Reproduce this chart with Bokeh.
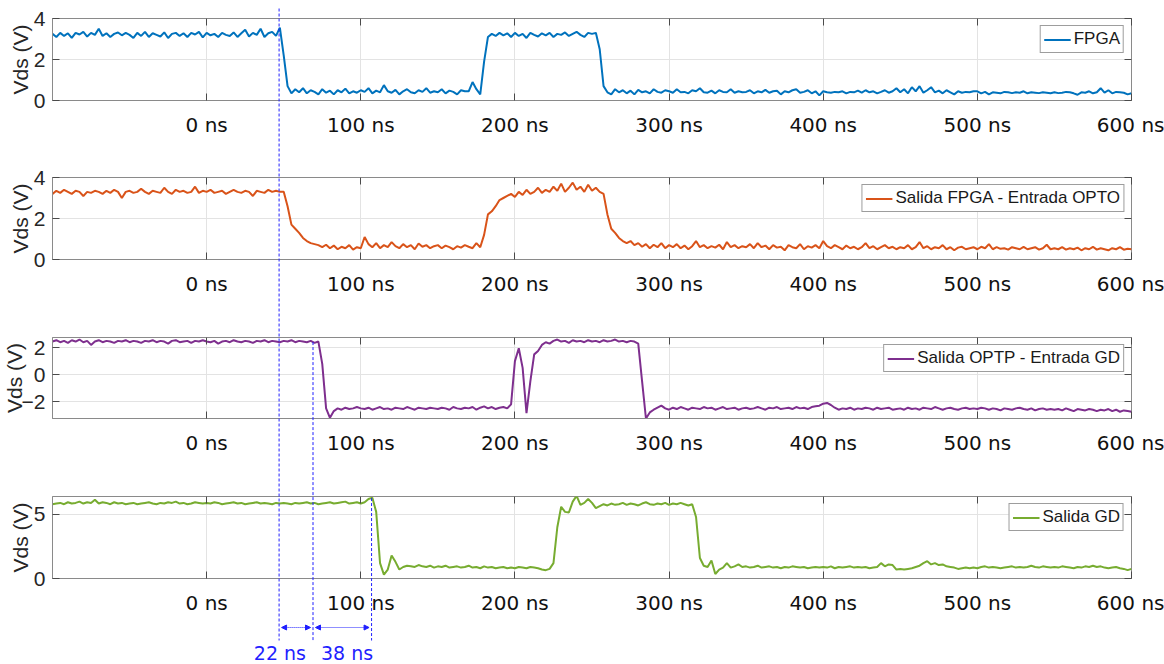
import numpy as np
from bokeh.plotting import figure
from bokeh.models import (Range1d, LinearAxis, FixedTicker, PrintfTickFormatter,
                          Arrow, NormalHead, Label, Legend, LegendItem, GridBox)
from bokeh.embed import file_html
from bokeh.resources import INLINE

# ---- sampled waveforms: Vds in volts, one sample every 2.5 ns from -100 ns ----
T0_NS = -100.0
DT_NS = 2.5

fpga_vds = [
    3.25, 3.1, 3.3, 3.15, 3.28, 3.05, 3.3, 3.22, 3.35, 3.12, 3.3, 3.2, 3.5, 3.15, 3.28, 3.1, 3.25, 3.32, 3.18, 3.3,
    3.2, 3.05, 3.3, 3.15, 3.35, 3.1, 3.28, 3.2, 3.12, 3.32, 3.05, 3.25, 3.3, 3.15, 3.28, 3.1, 3.3, 3.22, 3.35, 3.08,
    3.3, 3.18, 3.25, 3.1, 3.3, 3.2, 3.15, 3.32, 3.1, 3.28, 3.45, 3.12, 3.3, 3.2, 3.5, 3.1, 3.28, 3.35, 3.15, 3.55,
    2.2, 0.7, 0.35, 0.55, 0.4, 0.6, 0.35, 0.5, 0.42, 0.3, 0.55, 0.38, 0.48, 0.3, 0.5, 0.4, 0.58, 0.35, 0.45, 0.38,
    0.5, 0.42, 0.6, 0.35, 0.48, 0.4, 0.75, 0.45, 0.38, 0.52, 0.3, 0.45, 0.55, 0.4, 0.35, 0.5, 0.42, 0.6, 0.38, 0.45,
    0.4, 0.55, 0.35, 0.48, 0.42, 0.3, 0.5, 0.45, 0.45, 0.9, 0.55, 0.3, 1.9, 3.1, 3.25, 3.15, 3.3, 3.18, 3.28, 3.1,
    3.3, 3.15, 3.25, 3.05, 3.3, 3.2, 3.12, 3.28, 3.18, 3.3, 3.1, 3.25, 3.2, 3.32, 3.15, 3.25, 3.35, 3.2, 3.1, 3.3,
    3.25, 3.3, 2.5, 0.7, 0.4, 0.3, 0.55, 0.4, 0.5, 0.35, 0.48, 0.3, 0.52, 0.4, 0.45, 0.35, 0.55, 0.42, 0.38, 0.5,
    0.45, 0.38, 0.55, 0.4, 0.42, 0.35, 0.5, 0.45, 0.6, 0.4, 0.38, 0.48, 0.35, 0.5, 0.42, 0.4, 0.55, 0.38, 0.45, 0.4,
    0.42, 0.5, 0.35, 0.45, 0.4, 0.52, 0.38, 0.45, 0.48, 0.3, 0.45, 0.4, 0.5, 0.55, 0.38, 0.42, 0.5, 0.35, 0.45, 0.25,
    0.45, 0.4, 0.38, 0.42, 0.4, 0.45, 0.35, 0.42, 0.4, 0.48, 0.38, 0.5, 0.4, 0.45, 0.35, 0.42, 0.5, 0.38, 0.45, 0.6,
    0.4, 0.55, 0.35, 0.65, 0.45, 0.7, 0.38, 0.5, 0.65, 0.4, 0.48, 0.35, 0.5, 0.4, 0.3, 0.45, 0.38, 0.42, 0.4, 0.45,
    0.45, 0.35, 0.42, 0.3, 0.4, 0.38, 0.35, 0.42, 0.4, 0.36, 0.4, 0.38, 0.45, 0.35, 0.4, 0.38, 0.36, 0.4, 0.38, 0.35,
    0.4, 0.36, 0.38, 0.42, 0.4, 0.35, 0.28, 0.4, 0.38, 0.45, 0.35, 0.4, 0.6, 0.38, 0.5, 0.35, 0.42, 0.4, 0.38, 0.3,
    0.35,
]

opto_in_vds = [
    3.2, 3.35, 3.25, 3.4, 3.3, 3.2, 3.35, 3.3, 3.1, 3.3, 3.25, 3.35, 3.3, 3.2, 3.35, 3.25, 3.4, 3.3, 3.0, 3.3,
    3.35, 3.25, 3.3, 3.45, 3.3, 3.2, 3.35, 3.3, 3.25, 3.5, 3.3, 3.2, 3.4, 3.3, 3.35, 3.25, 3.3, 3.55, 3.25, 3.35,
    3.3, 3.4, 3.25, 3.3, 3.35, 3.2, 3.3, 3.4, 3.3, 3.25, 3.35, 3.3, 3.1, 3.35, 3.3, 3.25, 3.4, 3.3, 3.35, 3.3,
    3.3, 2.6, 1.7, 1.5, 1.3, 1.05, 0.9, 0.8, 0.75, 0.7, 0.6, 0.72, 0.55, 0.68, 0.5, 0.62, 0.55, 0.7, 0.48, 0.6,
    0.55, 1.1, 0.75, 0.6, 0.8, 0.55, 0.7, 0.6, 0.85, 0.65, 0.55, 0.75, 0.6, 0.7, 0.5, 0.78, 0.62, 0.7, 0.55, 0.65,
    0.7, 0.55, 0.68, 0.6, 0.5, 0.65, 0.58, 0.7, 0.62, 0.55, 0.8, 0.6, 1.2, 2.2, 2.35, 2.6, 2.9, 3.0, 3.1, 3.2,
    3.05, 3.3, 3.15, 3.4, 3.2, 3.3, 3.5, 3.25, 3.4, 3.3, 3.55, 3.35, 3.7, 3.3, 3.5, 3.75, 3.4, 3.55, 3.3, 3.65,
    3.35, 3.5, 3.3, 3.2, 2.2, 1.5, 1.3, 1.05, 0.9, 0.8, 0.9, 0.7, 0.8, 0.62, 0.75, 0.55, 0.72, 0.6, 0.8, 0.55,
    0.7, 0.6, 0.75, 0.55, 0.68, 0.5, 0.65, 0.9, 0.6, 0.7, 0.55, 0.65, 0.58, 0.72, 0.5, 0.85, 0.6, 0.7, 0.55, 0.65,
    0.6, 0.75, 0.55, 0.8, 0.6, 0.68, 0.5, 0.7, 0.58, 0.62, 0.45, 0.7, 0.6, 0.55, 0.75, 0.5, 0.65, 0.58, 0.7, 0.55,
    0.9, 0.65, 0.55, 0.7, 0.6, 0.5, 0.68, 0.55, 0.62, 0.5, 0.6, 0.8, 0.55, 0.65, 0.5, 0.6, 0.7, 0.55, 0.62, 0.5,
    0.6, 0.55, 0.7, 0.5, 0.6, 0.85, 0.55, 0.65, 0.5, 0.6, 0.55, 0.7, 0.5, 0.6, 0.45, 0.58, 0.62, 0.5, 0.55, 0.6,
    0.5, 0.62, 0.55, 0.75, 0.5, 0.6, 0.52, 0.55, 0.48, 0.6, 0.55, 0.5, 0.62, 0.5, 0.55, 0.6, 0.48, 0.55, 0.72, 0.5,
    0.55, 0.5, 0.6, 0.48, 0.55, 0.5, 0.58, 0.45, 0.55, 0.5, 0.62, 0.48, 0.55, 0.5, 0.45, 0.55, 0.5, 0.6, 0.48, 0.52,
    0.5,
]

gd_in_vds = [
    2.45, 2.55, 2.4, 2.5, 2.35, 2.55, 2.45, 2.6, 2.4, 2.5, 2.2, 2.45, 2.55, 2.4, 2.5, 2.45, 2.35, 2.5, 2.45, 2.55,
    2.4, 2.5, 2.45, 2.35, 2.5, 2.45, 2.55, 2.4, 2.5, 2.45, 2.3, 2.5, 2.55, 2.4, 2.45, 2.5, 2.35, 2.5, 2.45, 2.55,
    2.45, 2.4, 2.5, 2.3, 2.45, 2.5, 2.4, 2.55, 2.45, 2.4, 2.5, 2.45, 2.35, 2.5, 2.45, 2.55, 2.4, 2.5, 2.45, 2.4,
    2.5, 2.45, 2.55, 2.4, 2.5, 2.45, 2.4, 2.5, 2.35, 2.45, 0.8, -2.5, -3.2, -2.7, -2.5, -2.6, -2.45, -2.55, -2.5, -2.4,
    -2.5, -2.55, -2.45, -2.6, -2.5, -2.4, -2.55, -2.5, -2.6, -2.45, -2.5, -2.55, -2.4, -2.5, -2.6, -2.45, -2.5, -2.55, -2.45, -2.5,
    -2.55, -2.45, -2.5, -2.6, -2.4, -2.5, -2.55, -2.45, -2.5, -2.4, -2.6, -2.45, -2.35, -2.5, -2.4, -2.55, -2.45, -2.4, -2.5, -2.2,
    1.0, 1.95, 0.5, -2.85, -0.5, 1.5, 1.75, 2.2, 2.4, 2.3, 2.5, 2.6, 2.45, 2.5, 2.35, 2.55, 2.45, 2.5, 2.4, 2.55,
    2.45, 2.5, 2.4, 2.55, 2.45, 2.5, 2.6, 2.45, 2.5, 2.4, 2.5, 2.45, 2.3, -0.5, -3.25, -2.8, -2.6, -2.45, -2.3, -2.5,
    -2.6, -2.45, -2.55, -2.4, -2.5, -2.6, -2.45, -2.5, -2.55, -2.4, -2.5, -2.45, -2.6, -2.5, -2.4, -2.55, -2.5, -2.45, -2.6, -2.5,
    -2.45, -2.55, -2.5, -2.4, -2.5, -2.6, -2.45, -2.5, -2.4, -2.55, -2.5, -2.45, -2.55, -2.4, -2.5, -2.45, -2.55, -2.4, -2.35, -2.3,
    -2.15, -2.1, -2.25, -2.45, -2.6, -2.5, -2.55, -2.45, -2.6, -2.5, -2.55, -2.45, -2.5, -2.6, -2.45, -2.55, -2.5, -2.45, -2.6, -2.55,
    -2.5, -2.6, -2.45, -2.55, -2.5, -2.6, -2.45, -2.5, -2.55, -2.4, -2.5, -2.6, -2.5, -2.45, -2.55, -2.6, -2.5, -2.45, -2.55, -2.5,
    -2.55, -2.45, -2.5, -2.6, -2.5, -2.55, -2.65, -2.5, -2.55, -2.6, -2.5, -2.45, -2.55, -2.6, -2.5, -2.65, -2.55, -2.5, -2.6, -2.55,
    -2.6, -2.55, -2.65, -2.5, -2.6, -2.7, -2.55, -2.6, -2.65, -2.55, -2.6, -2.7, -2.6, -2.65, -2.55, -2.7, -2.6, -2.75, -2.65, -2.7,
    -2.75,
]

gd_out_vds = [
    5.8, 5.85, 5.9, 5.8, 5.95, 5.85, 5.9, 6.0, 5.85, 5.95, 5.9, 6.15, 5.85, 5.95, 5.9, 5.8, 5.95, 5.85, 5.9, 5.8,
    5.85, 5.9, 5.8, 5.85, 5.9, 5.95, 5.85, 5.8, 5.9, 5.85, 5.95, 5.9, 6.0, 5.85, 5.9, 5.8, 5.85, 5.95, 5.9, 5.85,
    5.9, 5.85, 5.95, 5.9, 5.8, 5.85, 5.9, 5.95, 5.85, 5.9, 5.8, 5.85, 5.9, 5.95, 5.85, 5.9, 5.85, 5.8, 5.9, 5.85,
    5.9, 5.85, 5.8, 5.9, 5.85, 5.9, 5.95, 5.85, 5.9, 5.8, 5.85, 5.9, 5.95, 5.85, 5.9, 5.95, 6.0, 5.85, 5.9, 5.95,
    5.85, 5.95, 6.2, 6.3, 5.2, 1.2, 0.3, 0.7, 1.8, 1.3, 0.7, 0.9, 1.0, 0.95, 0.9, 1.05, 0.95, 0.9, 1.0, 0.85,
    0.95, 0.9, 1.0, 0.85, 0.9, 0.95, 0.85, 0.9, 1.0, 0.85, 0.9, 0.8, 0.95, 0.85, 0.9, 0.8, 0.85, 0.9, 0.8, 0.85,
    0.8, 0.9, 0.85, 0.8, 0.9, 0.85, 0.8, 0.7, 0.65, 0.75, 1.2, 4.0, 5.6, 5.2, 5.15, 6.0, 6.45, 5.75, 5.9, 6.2,
    5.9, 5.5, 5.65, 5.8, 5.7, 5.85, 5.75, 5.8, 5.9, 5.75, 5.85, 5.8, 5.7, 5.85, 5.95, 5.8, 5.75, 5.85, 5.8, 5.9,
    5.75, 5.85, 5.8, 5.9, 5.8, 5.7, 5.8, 4.8, 1.6, 1.0, 0.9, 1.4, 0.35, 0.7, 0.85, 1.2, 0.85, 0.95, 1.1, 0.9,
    0.95, 0.85, 0.9, 1.0, 0.85, 0.9, 0.95, 0.85, 0.9, 0.8, 0.9, 0.85, 0.95, 0.9, 0.85, 0.9, 0.8, 0.85, 0.9, 0.85,
    0.9, 0.85, 0.95, 0.8, 0.9, 0.85, 0.9, 0.95, 0.85, 0.9, 0.85, 0.9, 0.8, 0.85, 0.9, 1.2, 0.95, 1.1, 1.05, 0.7,
    0.75, 0.7, 0.75, 0.8, 0.9, 1.0, 1.2, 1.35, 1.1, 1.2, 1.05, 1.1, 0.95, 0.9, 0.85, 0.75, 0.8, 0.85, 0.8, 0.85,
    0.8, 0.9, 0.95, 0.85, 0.9, 0.85, 0.8, 0.85, 0.9, 0.95, 0.85, 0.9, 0.85, 0.9, 1.0, 0.9, 0.85, 0.95, 0.9, 0.85,
    0.9, 0.85, 0.95, 0.9, 0.85, 0.8, 0.9, 0.85, 0.95, 0.9, 1.0, 0.9, 0.95, 0.85, 0.8, 0.85, 0.9, 0.8, 0.75, 0.65,
    0.75,
]

series_labels = ["FPGA", "Salida FPGA - Entrada OPTO", "Salida OPTP - Entrada GD", "Salida GD"]
series_colors = ["#0072BD", "#D95319", "#7E2F8E", "#77AC30"]
y_limits = [(0, 4), (0, 4), (-3.25, 2.75), (0, 6.4)]
y_ticks = [[0, 2, 4], [0, 2, 4], [-2, 0, 2], [0, 5]]
y_title = "Vds (V)"
x_ticks = [0, 100, 200, 300, 400, 500, 600]
x_limits = (-100, 600)

# switching-edge cursors: FPGA edge time and the two measured delays (ns)
t_fpga_edge = 47
delays_ns = [22, 38]

# ---- layout geometry (pixels) ----
W = 1164
LEFT, RIGHT = 52, 33
panel_geom = [  # (border top, frame height, border bottom)
    (18, 82, 50),
    (27, 82, 51),
    (27, 81, 52),
    (26, 82, 86),
]
fig_heights = [t + f + b for t, f, b in panel_geom]
H = sum(fig_heights)
fig_tops = np.concatenate([[0], np.cumsum(fig_heights)[:-1]])
frame_tops = [fig_tops[i] + panel_geom[i][0] for i in range(4)]
title_x = [20, 20, 14, 20]  # centre of the rotated y titles, px from the left

CURSOR = "#1f1fff"
AX_GREY = "#8a8a8a"
TICK_GREY = "#4a4a4a"
TXT = "#262626"

x_range = Range1d(*x_limits)
t1 = t_fpga_edge
t2 = t1 + delays_ns[0]
t3 = t2 + delays_ns[1]


def time_axis(vals):
    return T0_NS + DT_NS * np.arange(len(vals))


def blank_axis(ticks):
    return LinearAxis(ticker=FixedTicker(ticks=ticks),
                      major_label_overrides={float(v): "" for v in ticks},
                      major_label_text_font_size="1px", major_label_standoff=0,
                      major_tick_in=7, major_tick_out=0,
                      minor_tick_in=0, minor_tick_out=0,
                      major_tick_line_color=TICK_GREY, axis_line_color=None)


def make_panel(i, vals):
    top, fh, bottom = panel_geom[i]
    y0, y1 = y_limits[i]
    p = figure(width=W, height=top + fh + bottom, x_range=x_range,
               y_range=Range1d(y0, y1), output_backend="svg",
               toolbar_location=None, min_border_left=LEFT,
               min_border_right=RIGHT, min_border_top=top,
               min_border_bottom=bottom)
    p.background_fill_color = "white"
    p.border_fill_color = "white"
    p.outline_line_color = AX_GREY
    p.outline_line_width = 1

    xa = p.xaxis[0]
    xa.ticker = FixedTicker(ticks=x_ticks)
    xa.formatter = PrintfTickFormatter(format="%d ns")
    xa.major_label_text_font = "DejaVu Sans"
    xa.major_label_text_font_size = "20px"
    xa.major_label_text_color = "#111111"
    xa.major_label_standoff = 12
    xa.major_tick_in = 7
    xa.major_tick_out = 0
    xa.minor_tick_in = 0
    xa.minor_tick_out = 0
    xa.major_tick_line_color = TICK_GREY
    xa.axis_line_color = AX_GREY

    ya = p.yaxis[0]
    ya.ticker = FixedTicker(ticks=y_ticks[i])
    ya.major_label_text_font = "Liberation Sans"
    ya.major_label_text_font_size = "21px"
    ya.major_label_text_color = TXT
    ya.major_label_standoff = 7
    ya.major_tick_in = 7
    ya.major_tick_out = 0
    ya.minor_tick_in = 0
    ya.minor_tick_out = 0
    ya.major_tick_line_color = TICK_GREY
    ya.axis_line_color = AX_GREY

    p.add_layout(blank_axis(x_ticks), "above")
    p.add_layout(blank_axis(y_ticks[i]), "right")

    p.xgrid.ticker = FixedTicker(ticks=x_ticks)
    p.ygrid.ticker = FixedTicker(ticks=y_ticks[i])
    for g in (p.xgrid[0], p.ygrid[0]):
        g.grid_line_color = "#e3e3e3"
        g.grid_line_width = 1

    r = p.line(time_axis(vals), vals, line_color=series_colors[i], line_width=2)

    legend = Legend(items=[LegendItem(label=series_labels[i], renderers=[r])],
                    location="top_right", margin=7, padding=3, spacing=0,
                    label_standoff=3, glyph_width=27, glyph_height=19,
                    label_height=19, label_text_font="Liberation Sans",
                    label_text_font_size="17px", label_text_color="#1a1a1a",
                    border_line_color="#3c3c3c", border_line_width=1,
                    background_fill_color="white", background_fill_alpha=1.0)
    p.add_layout(legend)
    return p


series = [fpga_vds, opto_in_vds, gd_in_vds, gd_out_vds]
panels = [make_panel(i, vals) for i, vals in enumerate(series)]


def row_of(i, v):
    """Page row (px from the top) of value v inside panel i."""
    y0, y1 = y_limits[i]
    fh = panel_geom[i][1]
    return frame_tops[i] + (y1 - v) / (y1 - y0) * fh


# ---- transparent overlay spanning all panels: cursors, delays, y titles ----
ns_per_px = (x_limits[1] - x_limits[0]) / (W - LEFT - RIGHT)
ov = figure(width=W, height=H, output_backend="svg", toolbar_location=None,
            x_range=Range1d(x_limits[0] - LEFT * ns_per_px, x_limits[1] + RIGHT * ns_per_px),
            y_range=Range1d(H, 0), min_border=0,
            x_axis_location=None, y_axis_location=None)
ov.frame_align = False
ov.background_fill_color = None
ov.border_fill_color = None
ov.outline_line_color = None
ov.grid.visible = False

last_bottom = frame_tops[3] + panel_geom[3][1]
cursor_end = last_bottom + 62
v2 = float(np.interp(t2, time_axis(gd_in_vds), gd_in_vds))
v3 = float(np.interp(t3, time_axis(gd_out_vds), gd_out_vds))
ov.segment(x0=[t1, t2, t3], x1=[t1, t2, t3],
           y0=[frame_tops[0] - 10, row_of(2, v2), row_of(3, v3)],
           y1=[cursor_end] * 3,
           line_color=CURSOR, line_width=1, line_dash="3 2")

arrow_row = last_bottom + 49
gap = 2.5 * ns_per_px
for a, b in ((t1, t2), (t2, t3)):
    ov.add_layout(Arrow(x_start=a + gap, y_start=arrow_row, x_end=b - gap, y_end=arrow_row,
                        start=NormalHead(size=5, fill_color=CURSOR, line_color=CURSOR),
                        end=NormalHead(size=5, fill_color=CURSOR, line_color=CURSOR),
                        line_color=CURSOR, line_width=1, line_dash="1 1"))

label_row = last_bottom + 74
for text, dx, align in ((f"{delays_ns[0]} ns", -7, "right"), (f"{delays_ns[1]} ns", 8, "left")):
    ov.add_layout(Label(x=t2, y=label_row, x_offset=dx, text=text,
                        text_align=align, text_baseline="middle",
                        text_font="DejaVu Sans", text_font_size="19px", text_color=CURSOR))

for i in range(4):
    mid = frame_tops[i] + panel_geom[i][1] / 2
    ov.add_layout(Label(x=title_x[i], x_units="screen", y=mid, text=y_title,
                        angle=np.pi / 2, text_align="center", text_baseline="middle",
                        text_font="Liberation Sans", text_font_size="21px",
                        text_color=TXT))

children = [(p, i, 0) for i, p in enumerate(panels)] + [(ov, 0, 0, 4, 1)]
layout = GridBox(children=children, spacing=0)
open("out.html", "w").write(file_html(layout, INLINE))
